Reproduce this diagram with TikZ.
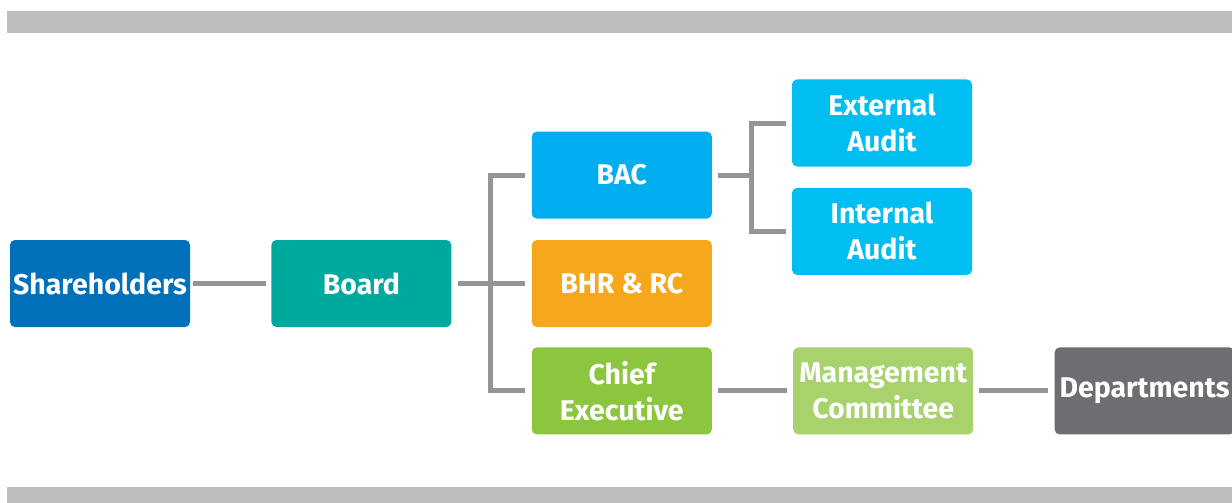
\documentclass[tikz,border=0pt]{standalone}
\usepackage{fontspec}
\setmainfont{Fira Sans}
\usepackage{tikz}
\usetikzlibrary{calc,positioning}
\definecolor{BarGrey}{HTML}{BCBEC0}
\definecolor{LineGrey}{HTML}{939598}
\definecolor{HolderBlue}{HTML}{0070BA}
\definecolor{BoardTeal}{HTML}{00A99D}
\definecolor{BacBlue}{HTML}{00ADEE}
\definecolor{HrOrange}{HTML}{F7A71C}
\definecolor{ChiefGreen}{HTML}{8CC63E}
\definecolor{AuditCyan}{HTML}{00BDF2}
\definecolor{MgmtGreen}{HTML}{A8D26C}
\definecolor{DeptGrey}{HTML}{6D6E71}

\begin{document}
\begin{tikzpicture} [x=1pt, y=-1pt,
       every node/.style={font=\bfseries\fontsize{28.5}{36}\selectfont},
       orgbox/.style = {rectangle, rounded corners=5pt, fill=#1, draw=none,
                        text=white, align=center, inner sep=0pt,
                        minimum width=180pt, minimum height=87pt},
       link/.style = {LineGrey, line width=5pt}]
	\useasboundingbox (0,0) rectangle (1232,503);

	%% Grey bars
	\fill[BarGrey] (7,11) rectangle (1232,33);
	\fill[BarGrey] (7,487) rectangle (1232,503);

	%% First column
	\node [orgbox=HolderBlue] (holders) at (100,283.5) {Shareholders};
	\node [orgbox=BoardTeal,right = 81pt of holders] (board) {Board};

	%% Committees
	\node [orgbox=HrOrange,right = 80pt of board] (bhr) {BHR \& RC};
	\node [orgbox=BacBlue,above = 21pt of bhr] (bac) {BAC};
	\node [orgbox=ChiefGreen,below = 20pt of bhr] (chief) {Chief\\Executive};

	%% Audits
	\node [orgbox=AuditCyan] (extaudit) at (882,123) {External\\Audit};
	\node [orgbox=AuditCyan,below = 21pt of extaudit] (intaudit) {Internal\\Audit};

	%% Management
	\node [orgbox=MgmtGreen,right = 81pt of chief] (mgmt) {Management\\Committee};
	\node [orgbox=DeptGrey,right = 81pt of mgmt] (depts) {Departments};

	%% Paths
	\draw[link] ([xshift=3pt]holders.east) -- ([xshift=-5pt]board.west);
	\coordinate (fork) at ($(board.east)+(39,0)$);
	\draw[link] ([xshift=6pt]board.east) -- ([xshift=-7pt]bhr.west);
	\draw[link] ([xshift=-7pt]bac.west) -| (fork) |- ([xshift=-7pt]chief.west);
	\coordinate (auditfork) at ($(bac.east)+(39,0)$);
	\draw[link] ([xshift=6pt]bac.east) -- (auditfork);
	\draw[link] ([xshift=-6pt]extaudit.west) -| (auditfork) |- ([xshift=-6pt]intaudit.west);
	\draw[link] ([xshift=6pt]chief.east) -- ([xshift=-6pt]mgmt.west);
	\draw[link] ([xshift=6pt]mgmt.east) -- ([xshift=-6pt]depts.west);
\end{tikzpicture}
\end{document}
